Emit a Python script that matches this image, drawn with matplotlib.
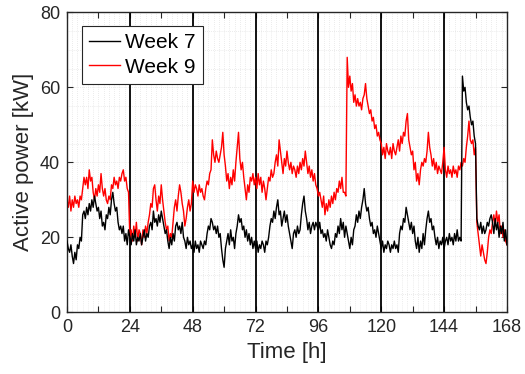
import numpy as np
import matplotlib
matplotlib.use("Agg")
import matplotlib.pyplot as plt
from matplotlib.ticker import MultipleLocator

plt.rcParams['font.family'] = ['Liberation Sans', 'DejaVu Sans']

# Half-hourly active power over one week (t = 0, 0.5, ..., 168 h)
step_h = 0.5

week7_kw = [
    19, 17, 16, 18, 15, 13, 16, 14, 18, 17, 20, 19, 26, 27, 25, 28, 26, 29, 27, 30, 28, 31, 29, 27,
    28, 25, 27, 23, 24, 22, 26, 25, 28, 26, 30, 32, 29, 27, 28, 24, 22, 23, 21, 23, 19, 21, 18, 22,
    20, 18, 21, 19, 22, 18, 20, 19, 21, 18, 20, 22, 19, 21, 20, 23, 24, 22, 27, 24, 25, 23, 26, 24,
    27, 25, 23, 21, 22, 19, 17, 20, 18, 21, 19, 23, 24, 22, 23, 21, 24, 20, 19, 17, 20, 18, 19, 17,
    18, 16, 19, 17, 18, 16, 19, 18, 17, 19, 18, 21, 23, 22, 25, 24, 22, 23, 21, 23, 20, 21, 17, 14,
    12, 17, 19, 21, 18, 22, 19, 20, 17, 21, 23, 26, 24, 25, 22, 23, 20, 22, 19, 21, 18, 20, 17, 19,
    17, 19, 16, 18, 17, 19, 18, 16, 19, 18, 20, 23, 25, 24, 27, 25, 28, 30, 26, 27, 23, 25, 27, 24,
    26, 23, 21, 19, 17, 21, 22, 20, 23, 21, 22, 26, 29, 31, 27, 25, 22, 24, 21, 23, 24, 22, 24, 23,
    22, 24, 21, 22, 20, 21, 19, 22, 20, 18, 17, 19, 18, 21, 20, 23, 21, 25, 22, 24, 20, 23, 21, 19,
    17, 20, 18, 22, 23, 26, 24, 27, 25, 28, 30, 33, 29, 27, 28, 25, 23, 24, 21, 22, 20, 23, 21, 19,
    17, 19, 16, 18, 17, 19, 18, 16, 18, 17, 19, 17, 18, 16, 21, 23, 22, 25, 24, 28, 26, 24, 22, 24,
    21, 23, 19, 17, 20, 16, 19, 17, 21, 18, 22, 25, 27, 24, 25, 22, 23, 20, 18, 20, 17, 19, 18, 20,
    17, 19, 20, 18, 21, 19, 20, 18, 21, 19, 22, 19, 20, 19, 63, 59, 60, 56, 54, 55, 52, 50, 51, 47,
    45, 25, 23, 22, 24, 21, 23, 21, 22, 24, 23, 25, 26, 24, 21, 25, 22, 24, 20, 23, 21, 24, 19, 22,
    18,
]

week9_kw = [
    30, 28, 31, 27, 30, 28, 31, 29, 30, 28, 31, 30, 33, 36, 34, 36, 33, 38, 35, 36, 32, 30, 33, 31,
    34, 32, 37, 33, 31, 33, 30, 29, 31, 30, 34, 33, 36, 34, 35, 33, 36, 35, 37, 38, 35, 36, 33, 32,
    20, 22, 19, 23, 20, 24, 19, 22, 21, 18, 22, 20, 23, 21, 24, 26, 29, 28, 33, 34, 30, 27, 31, 29,
    34, 30, 27, 24, 22, 23, 19, 21, 20, 24, 28, 30, 27, 31, 34, 32, 29, 27, 23, 25, 28, 30, 27, 29,
    35, 32, 34, 33, 31, 34, 32, 33, 31, 30, 33, 35, 34, 37, 38, 46, 42, 40, 43, 41, 40, 42, 44, 48,
    42, 39, 35, 37, 33, 36, 34, 38, 35, 40, 44, 48, 41, 38, 40, 36, 33, 30, 34, 32, 36, 35, 37, 34,
    36, 33, 37, 34, 36, 32, 35, 33, 30, 33, 36, 35, 38, 36, 37, 40, 42, 39, 46, 43, 40, 37, 41, 39,
    43, 40, 38, 40, 37, 39, 38, 36, 39, 37, 40, 38, 41, 39, 43, 40, 37, 39, 36, 38, 35, 37, 34, 33,
    31, 32, 30, 28, 31, 26, 29, 27, 30, 28, 31, 29, 32, 30, 33, 32, 35, 33, 36, 32, 32, 31, 68, 60,
    63, 59, 61, 56, 58, 55, 57, 55, 56, 54, 57, 58, 61, 57, 55, 53, 54, 51, 52, 49, 50, 47, 48, 46,
    45, 42, 44, 41, 45, 43, 42, 44, 41, 45, 43, 42, 44, 46, 43, 47, 45, 48, 47, 51, 53, 46, 44, 42,
    43, 38, 40, 35, 37, 34, 38, 40, 39, 41, 40, 43, 48, 44, 42, 39, 41, 38, 40, 37, 39, 38, 37, 40,
    44, 38, 36, 39, 37, 38, 36, 39, 37, 38, 36, 39, 38, 40, 39, 41, 40, 44, 47, 51, 46, 45, 46, 42,
    44, 24, 21, 18, 15, 18, 16, 14, 13, 16, 20, 22, 21, 24, 26, 23, 27, 24, 26, 21, 23, 20, 22, 19,
    18,
]

day_boundaries_h = [24, 48, 72, 96, 120, 144]
x_ticks_h = list(range(0, 169, 12))
x_tick_labels = [str(h) if h % 24 == 0 else "" for h in x_ticks_h]
y_ticks_kw = [0, 20, 40, 60, 80]

t_h = np.arange(len(week7_kw)) * step_h

fig = plt.figure(figsize=(5.25, 3.74), dpi=100)
ax = fig.add_axes([0.1276, 0.165, 0.838, 0.802])

frame_col = (0.15, 0.15, 0.15)

# dotted minor grid
ax.xaxis.set_minor_locator(MultipleLocator(2))
ax.yaxis.set_minor_locator(MultipleLocator(5))
ax.grid(which='both', color=(0.85, 0.85, 0.85), linestyle=(0, (1, 2)), linewidth=0.5)
ax.set_axisbelow(True)

for d in day_boundaries_h:
    ax.axvline(d, color='black', linewidth=1.3, zorder=1.5)

ax.plot(t_h, week7_kw, color='black', linewidth=1.0, label='Week 7', zorder=3)
ax.plot(t_h, week9_kw, color=(1, 0, 0), linewidth=1.0, label='Week 9', zorder=2.5)

ax.set_xlim(0, 168)
ax.set_ylim(0, 80)
ax.set_xticks(x_ticks_h)
ax.set_xticklabels(x_tick_labels)
ax.set_yticks(y_ticks_kw)

ax.tick_params(which='major', direction='in', length=4, width=0.8, color=frame_col,
               top=True, right=True, labelsize=13, labelcolor=(0.15, 0.15, 0.15), pad=5)
ax.tick_params(which='minor', length=0, top=True, right=True)
for s in ax.spines.values():
    s.set_color(frame_col)
    s.set_linewidth(1.0)

ax.set_xlabel('Time [h]', fontsize=16, color=(0.15, 0.15, 0.15), labelpad=4)
ax.set_ylabel('Active power [kW]', fontsize=16, color=(0.15, 0.15, 0.15), labelpad=4)

leg = ax.legend(loc='upper left', bbox_to_anchor=(0.033, 0.954), fontsize=15,
                frameon=True, fancybox=False, borderaxespad=0, handlelength=1.5,
                handletextpad=0.25, borderpad=0.35, labelspacing=0.25)
leg.get_frame().set_edgecolor(frame_col)
leg.get_frame().set_linewidth(0.8)
leg.get_frame().set_alpha(1.0)

fig.savefig('out.png', dpi=100)
